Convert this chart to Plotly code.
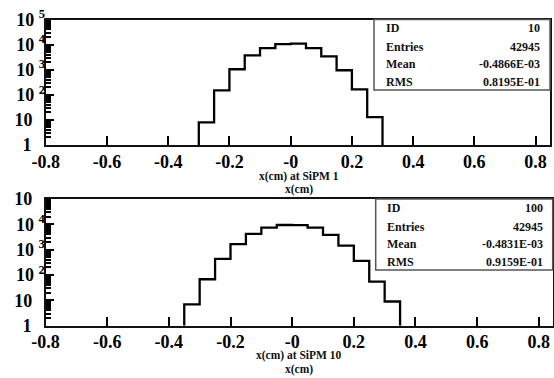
import plotly.graph_objects as go

# ---------------- data ----------------
edges1 = [-0.30, -0.25, -0.20, -0.15, -0.10, -0.05, 0.00, 0.05, 0.10, 0.15, 0.20, 0.25, 0.30]
counts1 = [8, 150, 1040, 3700, 7300, 10500, 10900, 7300, 3400, 950, 165, 13]

edges2 = [-0.35, -0.30, -0.25, -0.20, -0.15, -0.10, -0.05, 0.00, 0.05, 0.10, 0.15, 0.20, 0.25, 0.30, 0.35]
counts2 = [7, 68, 435, 1650, 4200, 7450, 9400, 9300, 7450, 3830, 1450, 360, 55, 9]

x_tickvals = [-0.8, -0.6, -0.4, -0.2, 0.0, 0.2, 0.4, 0.6, 0.8]
x_ticktext = ["-0.8", "-0.6", "-0.4", "-0.2", "-0", "0.2", "0.4", "0.6", "0.8"]

y_tickvals = [1, 10, 100, 1000, 10000, 100000]
NB = "\u00a0"
TH = "\u2009"
P1 = "1" + NB * 3
P10 = "10" + NB * 2 + TH
y_ticktext1 = [P1, P10, "10" + NB + "<sup>2</sup>", "10" + NB + "<sup>3</sup>",
               "10" + NB + "<sup>4</sup>", "10" + NB + "<sup>5</sup>"]
y_ticktext2 = [P1, P10, "10" + NB + "<sup>2</sup>", "10" + NB + "<sup>3</sup>",
               "10" + NB + "<sup>4</sup>", P10]

y_minor = [m * 10 ** d for d in range(5) for m in range(2, 10)]

stats_labels = ["ID", "Entries", "Mean", "RMS"]
stats1 = ["10", "42945", "-0.4866E-03", "0.8195E-01"]
stats2 = ["100", "42945", "-0.4831E-03", "0.9159E-01"]

titles = ["x(cm) at SiPM 1", "x(cm) at SiPM 10"]
subtitle = "x(cm)"

W, H = 554, 378
FONT = "Liberation Serif"


def px_x(v):
    return v / W


def px_y(v):
    return 1 - v / H


def step_xy(edges, counts):
    xs = [edges[0]] + list(edges[:-1]) + [edges[-1], edges[-1]]
    ys = [1] + list(counts) + [counts[-1], 1]
    return xs, ys


fig = go.Figure()

# panel geometry (pixels)
panels = [
    dict(x0=45.7, x1=550.0, y0=19.5, y1=145.0, xr=[-0.8, 0.847], ax="", box=(374, 550, 19.5, 90),
         rows=[28.3, 46.7, 64.3, 81.7], lx=384, vx=541.7, t1=176.5, t2=189.5, stats=stats1,
         edges=edges1, counts=counts1, yt=y_ticktext1),
    dict(x0=45.5, x1=552.7, y0=199.0, y1=325.7, xr=[-0.8, 0.845], ax="2", box=(375.7, 552.7, 199, 270),
         rows=[208.3, 226.7, 244.3, 261.7], lx=385, vx=545, t1=355.5, t2=369.0, stats=stats2,
         edges=edges2, counts=counts2, yt=y_ticktext2),
]

tickfont = dict(family=FONT, size=18, color="black", weight="bold")

for i, p in enumerate(panels):
    xs, ys = step_xy(p["edges"], p["counts"])
    fig.add_trace(go.Scatter(x=xs, y=ys, mode="lines", line=dict(color="black", width=2.3, shape="hv"),
                             xaxis="x" + p["ax"], yaxis="y" + p["ax"], showlegend=False,
                             hoverinfo="skip", cliponaxis=False))
    xa = dict(domain=[px_x(p["x0"]), px_x(p["x1"])], range=p["xr"], anchor="y" + p["ax"],
              tickvals=x_tickvals, ticktext=x_ticktext, ticks="inside", ticklen=9, tickwidth=2,
              tickcolor="black", showline=True, linecolor="#111", linewidth=2, mirror=True,
              showgrid=False, zeroline=False, tickfont=tickfont, ticklabelstandoff=-1,
              automargin=False)
    ya = dict(domain=[px_y(p["y1"]), px_y(p["y0"])], type="log", range=[0, 5], anchor="x" + p["ax"],
              tickvals=y_tickvals, ticktext=p["yt"], ticks="inside", ticklen=8, tickwidth=2,
              tickcolor="black", showline=True, linecolor="#111", linewidth=2, mirror=True,
              showgrid=False, zeroline=False, tickfont=tickfont, ticklabelstandoff=-5,
              automargin=False,
              minor=dict(tickvals=y_minor, ticks="inside", ticklen=5, tickwidth=1.5, tickcolor="black",
                         showgrid=False))
    fig.layout["xaxis" + p["ax"]] = xa
    fig.layout["yaxis" + p["ax"]] = ya

    bx0, bx1, by0, by1 = p["box"]
    fig.add_shape(type="rect", xref="paper", yref="paper", x0=px_x(bx0), x1=px_x(bx1),
                  y0=px_y(by1), y1=px_y(by0), line=dict(color="#555", width=1.5),
                  fillcolor="white", layer="above")
    for lab, val, ry in zip(stats_labels, p["stats"], p["rows"]):
        fig.add_annotation(xref="paper", yref="paper", x=px_x(p["lx"]), y=px_y(ry), text=lab,
                           showarrow=False, xanchor="left", yanchor="middle",
                           font=dict(family=FONT, size=12, color="#111", weight="bold"))
        fig.add_annotation(xref="paper", yref="paper", x=px_x(p["vx"]), y=px_y(ry), text=val,
                           showarrow=False, xanchor="right", yanchor="middle",
                           font=dict(family=FONT, size=12, color="#111", weight="bold"))
    fig.add_annotation(xref="paper", yref="paper", x=px_x(299), y=px_y(p["t1"]), text=titles[i],
                       showarrow=False, xanchor="center", yanchor="middle",
                       font=dict(family=FONT, size=11.5, color="#111", weight="bold"))
    fig.add_annotation(xref="paper", yref="paper", x=px_x(299), y=px_y(p["t2"]), text=subtitle,
                       showarrow=False, xanchor="center", yanchor="middle",
                       font=dict(family=FONT, size=11.5, color="#111", weight="bold"))

fig.update_layout(width=W, height=H, margin=dict(l=0, r=0, t=0, b=0),
                  paper_bgcolor="white", plot_bgcolor="white", showlegend=False)

fig.write_html("out.html", config={"displayModeBar": False})
